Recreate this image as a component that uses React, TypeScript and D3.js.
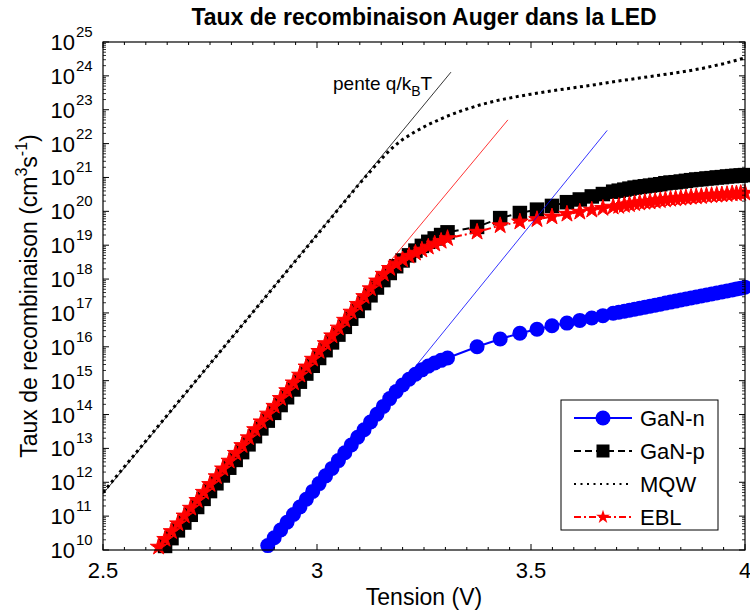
import React from 'react';
import * as d3 from 'd3';

// ---- data (log10 of rate, cm^-3 s^-1) ----
const voltages = [
  2.630, 2.645, 2.660, 2.675, 2.690, 2.705, 2.720, 2.735, 2.750, 2.765,
  2.780, 2.795, 2.810, 2.825, 2.840, 2.855, 2.870, 2.885, 2.900, 2.915,
  2.930, 2.945, 2.960, 2.975, 2.990, 3.005, 3.020, 3.035, 3.050, 3.065,
  3.080, 3.095, 3.110, 3.125, 3.140, 3.155, 3.170, 3.185, 3.200, 3.215,
  3.230, 3.245, 3.260, 3.275, 3.290, 3.305, 3.374, 3.428, 3.474, 3.514,
  3.549, 3.584, 3.614, 3.642, 3.668, 3.692, 3.705, 3.718, 3.730, 3.742,
  3.754, 3.766, 3.778, 3.790, 3.802, 3.814, 3.826, 3.838, 3.850, 3.862,
  3.874, 3.886, 3.898, 3.910, 3.922, 3.934, 3.946, 3.958, 3.970, 3.980,
  3.990, 4.000,
];

const gaNnLog: (number | null)[] = [
  null, null, null, null, null, null, null, null, null, null,
  null, null, null, null, null, null, null, 10.13, 10.36, 10.59,
  10.82, 11.05, 11.27, 11.50, 11.73, 11.96, 12.19, 12.41, 12.64, 12.87,
  13.10, 13.33, 13.55, 13.78, 14.01, 14.24, 14.47, 14.68, 14.87, 15.04,
  15.19, 15.32, 15.43, 15.52, 15.60, 15.67, 16.00, 16.23, 16.40, 16.52,
  16.62, 16.70, 16.78, 16.85, 16.92, 16.99, 17.02, 17.05, 17.08, 17.11,
  17.14, 17.17, 17.20, 17.23, 17.26, 17.29, 17.32, 17.35, 17.38, 17.41,
  17.44, 17.47, 17.50, 17.53, 17.56, 17.59, 17.62, 17.65, 17.68, 17.71,
  17.73, 17.76,
];

const gaNpLog: (number | null)[] = [
  null, 10.12, 10.35, 10.58, 10.81, 11.04, 11.27, 11.51, 11.74, 11.97,
  12.20, 12.43, 12.66, 12.89, 13.12, 13.36, 13.59, 13.82, 14.05, 14.28,
  14.51, 14.74, 14.97, 15.21, 15.44, 15.67, 15.90, 16.13, 16.36, 16.59,
  16.83, 17.06, 17.29, 17.52, 17.75, 17.97, 18.18, 18.38, 18.55, 18.70,
  18.84, 18.98, 19.10, 19.20, 19.30, 19.38, 19.54, 19.80, 19.95, 20.05,
  20.16, 20.27, 20.35, 20.44, 20.51, 20.58, 20.61, 20.64, 20.67, 20.70,
  20.72, 20.74, 20.76, 20.78, 20.80, 20.83, 20.85, 20.86, 20.88, 20.90,
  20.92, 20.94, 20.95, 20.97, 20.98, 21.00, 21.01, 21.03, 21.04, 21.05,
  21.06, 21.07,
];

const eblLog: (number | null)[] = [
  10.09, 10.32, 10.55, 10.78, 11.01, 11.24, 11.47, 11.71, 11.94, 12.17,
  12.40, 12.63, 12.86, 13.09, 13.32, 13.56, 13.79, 14.02, 14.25, 14.48,
  14.71, 14.94, 15.17, 15.41, 15.64, 15.87, 16.10, 16.33, 16.56, 16.79,
  17.03, 17.26, 17.49, 17.72, 17.95, 18.15, 18.32, 18.45, 18.57, 18.68,
  18.77, 18.86, 18.95, 19.04, 19.12, 19.20, 19.39, 19.58, 19.69, 19.76,
  19.84, 19.92, 19.98, 20.04, 20.09, 20.13, 20.15, 20.18, 20.20, 20.23,
  20.25, 20.27, 20.28, 20.30, 20.32, 20.34, 20.36, 20.37, 20.39, 20.40,
  20.42, 20.43, 20.44, 20.46, 20.47, 20.48, 20.49, 20.50, 20.52, 20.52,
  20.53, 20.54,
];

const mqwVoltages = [
  2.5, 2.6, 2.7, 2.8, 2.9, 3.0, 3.1, 3.14, 3.16, 3.18, 3.2, 3.23, 3.26, 3.3,
  3.34, 3.38, 3.42, 3.46, 3.5, 3.55, 3.6, 3.65, 3.7, 3.75, 3.8, 3.85, 3.9, 3.95, 4.0,
];
const mqwLog = [
  11.70, 13.22, 14.74, 16.26, 17.78, 19.30, 20.83, 21.40, 21.68, 21.92, 22.12, 22.36, 22.56, 22.79,
  22.98, 23.14, 23.27, 23.37, 23.46, 23.56, 23.65, 23.74, 23.84, 23.93, 24.02, 24.11, 24.22, 24.36, 24.53,
];

// slope (q/kBT) guide lines: [voltage, log10 rate]
const penteLine = [[2.5, 11.66], [3.313, 24.11]];
const eblSlopeLine = [[3.0, 15.93], [3.446, 22.70]];
const gaNnSlopeLine = [[3.0, 11.84], [3.678, 22.39]];

const xTicks = [2.5, 3, 3.5, 4];
const xTickLabels = ['2.5', '3', '3.5', '4'];
const yExponents = d3.range(10, 26);
const legendLabels = ['GaN-n', 'GaN-p', 'MQW', 'EBL'];

const W = 750, H = 616;
const L = 103, R = 745, T = 42, B = 550;
const FONT = "'Liberation Sans', Arial, Helvetica, sans-serif";

export default function App() {
  const x = d3.scaleLinear().domain([2.5, 4]).range([L, R]);
  const y = d3.scaleLog().domain([1e10, 1e25]).range([B, T]);
  const toPts = (vs: number[], ls: (number | null)[]) =>
    vs.map((v, i) => (ls[i] == null ? null : [x(v), y(Math.pow(10, ls[i] as number))] as [number, number]))
      .filter((p): p is [number, number] => p !== null);
  const line = d3.line<[number, number]>();

  const pN = toPts(voltages, gaNnLog);
  const pP = toPts(voltages, gaNpLog);
  const pE = toPts(voltages, eblLog);
  const pM = toPts(mqwVoltages, mqwLog);
  const guide = (g: number[][]) => line(g.map(([v, l]) => [x(v), y(Math.pow(10, l))] as [number, number]));

  const star = d3.symbol().type(d3.symbolStar).size(85)() as string;
  const starSmall = d3.symbol().type(d3.symbolStar).size(60)() as string;

  const xMinor = d3.range(2.5, 4.0001, 0.05).filter(v => !xTicks.some(t => Math.abs(t - v) < 1e-6));
  const yMinor: number[] = [];
  for (let k = 10; k < 25; k++) for (let m = 2; m <= 9; m++) yMinor.push(m * Math.pow(10, k));

  const legX0 = 574, legX1 = 632, legMid = 603, legText = 640;
  const legY = [418, 451, 484, 517];
  const SQ = 14.5;

  return (
    <svg width={W} height={H} style={{ position: 'absolute', left: 0, top: 0, background: '#fff' }} fontFamily={FONT}>
      <rect x={0} y={0} width={W} height={H} fill="#fff" />
      <defs>
        <clipPath id="plotclip"><rect x={L} y={T} width={R - L} height={B - T} /></clipPath>
      </defs>

      <text x={(L + R) / 2} y={25} textAnchor="middle" fontSize={23} fontWeight="bold">Taux de recombinaison Auger dans la LED</text>

      {/* curves */}
      <g clipPath="url(#plotclip)">
        <path d={line(pN) || ''} fill="none" stroke="#0000ff" strokeWidth={2} />
      </g>
      {pN.map(([cx, cy], i) => <circle key={'n' + i} cx={cx} cy={cy} r={7.5} fill="#0000ff" />)}

      <g clipPath="url(#plotclip)">
        <path d={line(pP) || ''} fill="none" stroke="#000" strokeWidth={2} strokeDasharray="7,4" />
      </g>
      {pP.map(([cx, cy], i) => <rect key={'p' + i} x={cx - SQ / 2} y={cy - SQ / 2} width={SQ} height={SQ} fill="#000" />)}

      <g clipPath="url(#plotclip)">
        <path d={line(pM) || ''} fill="none" stroke="#000" strokeWidth={3} strokeDasharray="3,3.5" />
      </g>

      <g clipPath="url(#plotclip)">
        <path d={line(pE) || ''} fill="none" stroke="#ff0000" strokeWidth={2} strokeDasharray="7,3,2,3" />
      </g>
      {pE.map(([cx, cy], i) => <path key={'e' + i} d={star} transform={`translate(${cx},${cy})`} fill="#ff0000" stroke="#ff0000" strokeWidth={1} />)}

      {/* slope guides */}
      <path d={guide(penteLine) || ''} stroke="#000" strokeWidth={0.8} fill="none" />
      <path d={guide(eblSlopeLine) || ''} stroke="#ff0000" strokeWidth={0.8} fill="none" />
      <path d={guide(gaNnSlopeLine) || ''} stroke="#0000ff" strokeWidth={0.8} fill="none" />

      <text x={333} y={90} fontSize={19}>pente q/k<tspan fontSize={14} dy={6}>B</tspan><tspan dy={-6}>T</tspan></text>

      {/* axes box and ticks */}
      <rect x={L} y={T} width={R - L} height={B - T} fill="none" stroke="#000" strokeWidth={1.2} />
      {xTicks.map(v => (
        <g key={'xt' + v}>
          <line x1={x(v)} x2={x(v)} y1={B} y2={B - 6} stroke="#000" />
          <line x1={x(v)} x2={x(v)} y1={T} y2={T + 6} stroke="#000" />
        </g>
      ))}
      {xMinor.map((v, i) => (
        <g key={'xm' + i}>
          <line x1={x(v)} x2={x(v)} y1={B} y2={B - 3} stroke="#000" />
          <line x1={x(v)} x2={x(v)} y1={T} y2={T + 3} stroke="#000" />
        </g>
      ))}
      {yExponents.map(k => (
        <g key={'yt' + k}>
          <line x1={L} x2={L + 6} y1={y(Math.pow(10, k))} y2={y(Math.pow(10, k))} stroke="#000" />
          <line x1={R} x2={R - 6} y1={y(Math.pow(10, k))} y2={y(Math.pow(10, k))} stroke="#000" />
        </g>
      ))}
      {yMinor.map((v, i) => (
        <g key={'ym' + i}>
          <line x1={L} x2={L + 3} y1={y(v)} y2={y(v)} stroke="#000" strokeWidth={0.8} />
          <line x1={R} x2={R - 3} y1={y(v)} y2={y(v)} stroke="#000" strokeWidth={0.8} />
        </g>
      ))}

      {xTicks.map((v, i) => (
        <text key={'xl' + v} x={x(v)} y={578} textAnchor="middle" fontSize={22}>{xTickLabels[i]}</text>
      ))}
      {yExponents.map(k => (
        <g key={'yl' + k}>
          <text x={75} y={y(Math.pow(10, k)) + 8} textAnchor="end" fontSize={22}>10</text>
          <text x={76} y={y(Math.pow(10, k)) - 5} fontSize={15}>{k}</text>
        </g>
      ))}

      <text x={(L + R) / 2} y={605} textAnchor="middle" fontSize={23}>Tension (V)</text>
      <text transform={`translate(37,${(T + B) / 2}) rotate(-90)`} textAnchor="middle" fontSize={23}>
        Taux de recombinaison (cm<tspan fontSize={16} dy={-10}>3</tspan><tspan dy={10}>s</tspan><tspan fontSize={16} dy={-10}>-1</tspan><tspan dy={10}>)</tspan>
      </text>

      {/* legend */}
      <rect x={561} y={400} width={157} height={130} fill="#fff" stroke="#000" strokeWidth={1} />
      <line x1={legX0} x2={legX1} y1={legY[0]} y2={legY[0]} stroke="#0000ff" strokeWidth={2} />
      <circle cx={legMid} cy={legY[0]} r={7.5} fill="#0000ff" />
      <line x1={legX0} x2={legX1} y1={legY[1]} y2={legY[1]} stroke="#000" strokeWidth={2} strokeDasharray="7,4" />
      <rect x={legMid - 6.5} y={legY[1] - 6.5} width={13} height={13} fill="#000" />
      <line x1={legX0} x2={legX1} y1={legY[2]} y2={legY[2]} stroke="#000" strokeWidth={2} strokeDasharray="2,4.5" />
      <line x1={legX0} x2={legX1} y1={legY[3]} y2={legY[3]} stroke="#ff0000" strokeWidth={2} strokeDasharray="7,3,2,3" />
      <path d={starSmall} transform={`translate(${legMid},${legY[3]})`} fill="#ff0000" />
      {legendLabels.map((t, i) => (
        <text key={t} x={legText} y={legY[i] + 8} fontSize={22}>{t}</text>
      ))}
    </svg>
  );
}
